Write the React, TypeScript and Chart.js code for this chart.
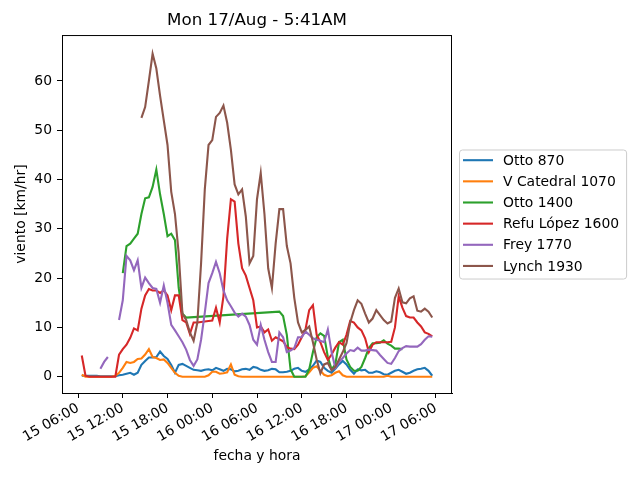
import { useEffect, useRef } from "react"
import { Chart, registerables } from "chart.js"

Chart.register(...registerables)

// hours counted from 15/Aug 00:00, one reading every half hour
const hours = [
  6.5, 7, 7.5, 8, 8.5, 9, 9.5, 10, 10.5, 11, 11.5, 12,
  12.5, 13, 13.5, 14, 14.5, 15, 15.5, 16, 16.5, 17, 17.5, 18,
  18.5, 19, 19.5, 20, 20.5, 21, 21.5, 22, 22.5, 23, 23.5, 24,
  24.5, 25, 25.5, 26, 26.5, 27, 27.5, 28, 28.5, 29, 29.5, 30,
  30.5, 31, 31.5, 32, 32.5, 33, 33.5, 34, 34.5, 35, 35.5, 36,
  36.5, 37, 37.5, 38, 38.5, 39, 39.5, 40, 40.5, 41, 41.5, 42,
  42.5, 43, 43.5, 44, 44.5, 45, 45.5, 46, 46.5, 47, 47.5, 48,
  48.5, 49, 49.5, 50, 50.5, 51, 51.5, 52, 52.5, 53, 53.5,
]

const otto870 = [
  0.2, 0.2, 0.2, 0.2, 0.2, 0.1, 0.1, 0.1, 0.1, 0.1, 0.3, 0.4,
  0.6, 0.8, 0.4, 0.8, 2.4, 3.2, 3.9, 3.9, 4.0, 5.1, 4.2, 3.6,
  2.4, 0.8, 2.4, 2.6, 2.2, 1.8, 1.4, 1.3, 1.2, 1.4, 1.5, 1.3,
  1.8, 1.5, 1.2, 1.6, 1.5, 1.1, 1.2, 1.5, 1.6, 1.4, 2.0, 1.8,
  1.4, 1.2, 1.3, 1.6, 1.5, 0.9, 0.9, 1.0, 1.2, 1.6, 1.8, 1.2,
  1.0, 1.5, 2.2, 3.3, 3.0, 1.8, 1.2, 0.8, 1.6, 2.5, 3.2, 2.5,
  1.4, 0.6, 1.5, 1.3, 1.4, 0.8, 0.8, 1.1, 0.9, 0.5, 0.4, 0.8,
  1.2, 1.4, 1.0, 0.6, 0.8, 1.2, 1.5, 1.6, 1.8, 1.2, 0.2,
]

const vCatedral1070 = [
  0.4, 0.0, 0.0, 0.0, 0.0, 0.0, 0.0, 0.0, 0.0, 0.2, 0.8, 1.8,
  3.0, 2.8, 3.0, 3.6, 3.7, 4.5, 5.6, 4.0, 3.8, 3.4, 3.5, 2.8,
  1.8, 0.8, 0.2, 0.0, 0.0, 0.0, 0.0, 0.0, 0.0, 0.0, 0.3, 1.0,
  1.0, 0.6, 0.7, 0.9, 2.5, 0.4, 0.1, 0.0, 0.0, 0.0, 0.0, 0.0,
  0.0, 0.0, 0.0, 0.0, 0.0, 0.0, 0.0, 0.0, 0.0, 0.0, 0.0, 0.0,
  0.1, 0.9, 1.8, 2.1, 1.2, 0.4, 0.1, 0.3, 0.8, 1.1, 0.3, 0.0,
  0.0, 0.0, 0.0, 0.0, 0.0, 0.0, 0.0, 0.0, 0.0, 0.0, 0.2, 0.0,
  0.0, 0.0, 0.0, 0.0, 0.0, 0.0, 0.0, 0.0, 0.0, 0.0, 0.0,
]

const otto1400 = [
  null, null, null, null, null, null, null, null, null, null, null, 21.0,
  26.5, 27.0, 28.0, 29.0, 33.0, 36.2, 36.4, 38.5, 42.0, 37.0, 33.0, 28.5,
  29.0, 27.7, 18.0, 12.8, 12.0, null, null, null, null, null, null, null,
  null, null, null, null, null, null, null, null, null, null, null, null,
  null, null, null, null, null, 13.2, 12.3, 8.5, 1.5, 0.0, 0.0, 0.0,
  0.0, 1.5, 5.0, 8.0, 8.8, 8.3, 4.0, 1.5, 2.5, 7.0, 7.5, 3.5,
  2.0, 1.2, 1.2, 2.0, 3.8, 5.8, 6.8, 6.8, 6.9, 7.4, 6.7, 6.3,
  5.7, 5.7, 5.6, null, null, null, null, null, null, null, null,
]

const refuLopez1600 = [
  4.3, 0.2, 0.0, 0.0, 0.0, 0.0, 0.0, 0.0, 0.0, 0.0, 4.5, 5.6,
  6.5, 7.9, 9.8, 9.4, 13.8, 16.5, 17.8, 17.5, 17.5, 17.0, 17.5, 16.5,
  13.5, 16.5, 16.5, 11.5, 11.0, 8.7, 11.0, 11.0, 11.1, 11.2, 11.3, 11.4,
  14.0, 11.0, 16.3, 28.0, 36.0, 35.5, 27.0, 22.0, 20.5, 18.0, 15.5, 10.0,
  10.2, 9.0, 9.6, 7.3, 8.0, 7.6, 7.2, 6.0, 5.7, 5.6, 6.5, 8.0,
  9.6, 13.5, 14.5, 8.5, 7.0, 5.0, 3.4, 4.5, 5.9, 7.0, 6.5, 8.5,
  11.3, 11.0, 10.0, 9.4, 7.8, 5.0, 6.5, 7.0, 7.0, 7.0, 7.0, 7.1,
  10.0, 16.3, 14.0, 12.3, 12.0, 12.0, 11.0, 10.2, 9.0, 8.7, 8.2,
]

const frey1770 = [
  null, null, null, null, null, 1.6, 3.0, 4.0, null, null, 11.5, 15.5,
  24.5, 23.6, 21.6, 23.6, 18.0, 20.1, 19.0, 18.0, 17.8, 15.0, 18.5, 15.0,
  10.5, 9.4, 8.2, 7.0, 5.5, 3.4, 2.2, 3.5, 7.5, 13.0, 19.0, 21.0,
  23.3, 21.0, 17.5, 15.5, 14.3, 13.0, 12.2, 12.8, 12.2, 10.5, 7.5, 6.5,
  10.5, 7.5, 5.0, 3.0, 3.0, 9.0, 8.0, 5.0, 5.3, 5.8, 8.0, 8.0,
  9.2, 8.5, 7.8, 7.5, 7.3, 7.0, 9.6, 5.0, 1.8, 3.0, 3.8, 4.7,
  5.4, 5.2, 5.9, 5.3, 5.3, 5.5, 5.4, 5.3, 4.4, 3.6, 2.8, 2.6,
  3.8, 5.2, 5.8, 6.2, 6.1, 6.1, 6.1, 6.6, 7.5, 8.2, 8.1,
]

const lynch1930 = [
  null, null, null, null, null, null, null, null, null, null, null, null,
  null, null, null, null, 52.5, 54.7, 60.0, 65.5, 62.5, 57.0, 52.0, 47.0,
  37.5, 33.0, 25.0, 12.8, 11.5, 9.0, 7.3, 11.0, 23.0, 38.0, 47.0, 48.0,
  52.7, 53.5, 55.0, 51.5, 46.0, 39.0, 37.0, 38.0, 32.5, 23.0, 24.5, 36.0,
  41.3, 33.0, 22.0, 18.0, 27.0, 34.0, 34.0, 26.5, 23.0, 16.0, 11.0, 9.0,
  9.5, 10.2, 7.0, 3.5, 0.7, 2.5, 2.8, 1.3, 2.0, 3.5, 5.0, 6.8,
  11.0, 13.5, 15.5, 14.8, 12.8, 11.0, 11.8, 13.5, 12.5, 11.5, 10.8, 11.2,
  16.0, 17.9, 15.1, 14.9, 15.9, 16.3, 13.4, 13.2, 13.8, 13.2, 12.0,
]

const seriesNames = ["Otto 870", "V Catedral 1070", "Otto 1400", "Refu López 1600", "Frey 1770", "Lynch 1930"]
const seriesValues = [otto870, vCatedral1070, otto1400, refuLopez1600, frey1770, lynch1930]
const seriesColors = ["#1f77b4", "#ff7f0e", "#2ca02c", "#d62728", "#9467bd", "#8c564b"]
// missing readings of Otto 1400 are joined by a straight line, Frey has a real break
const seriesSpanGaps = [true, true, true, true, false, false]

const xTickHours = [6, 12, 18, 24, 30, 36, 42, 48, 54]
const xTickLabels = ["15 06:00", "15 12:00", "15 18:00", "16 00:00", "16 06:00", "16 12:00", "16 18:00", "17 00:00", "17 06:00"]
const yTicks = [0, 10, 20, 30, 40, 50, 60]

const FONT = "'DejaVu Sans', sans-serif"

// axes frame and the legend box to the right of the axes
const framePlugin = {
  id: "frameAndLegend",
  afterDraw(chart: Chart) {
    const { ctx, chartArea } = chart
    ctx.save()
    ctx.strokeStyle = "#000"
    ctx.lineWidth = 1
    ctx.strokeRect(chartArea.left + 0.5, chartArea.top + 0.5, chartArea.width - 1, chartArea.height)

    ctx.font = `13.9px ${FONT}`
    const datasets = chart.data.datasets
    const rowH = 21.15
    const textW = Math.max(...datasets.map((d) => ctx.measureText(String(d.label)).width))
    const left = chartArea.right + 7
    const width = 44 + textW + 7
    const height = rowH * (datasets.length - 1) + 23.3
    const top = (chartArea.top + chartArea.bottom) / 2 - height / 2
    ctx.beginPath()
    ctx.roundRect(left + 0.5, top + 0.5, width, height, 3)
    ctx.fillStyle = "rgba(255,255,255,0.8)"
    ctx.fill()
    ctx.strokeStyle = "#cccccc"
    ctx.stroke()

    datasets.forEach((d, i) => {
      const y = top + 10.7 + i * rowH
      ctx.beginPath()
      ctx.strokeStyle = String(d.borderColor)
      ctx.lineWidth = 2.1
      ctx.moveTo(left + 4, y)
      ctx.lineTo(left + 34, y)
      ctx.stroke()
      ctx.fillStyle = "#000"
      ctx.textBaseline = "middle"
      ctx.textAlign = "left"
      ctx.fillText(String(d.label), left + 44, y + 1)
    })
    ctx.restore()
  },
}

export default function App() {
  const chartRef = useRef<HTMLCanvasElement>(null)
  const chartInstance = useRef<Chart | null>(null)

  useEffect(() => {
    if (!chartRef.current) return
    if (chartInstance.current) {
      chartInstance.current.destroy()
    }

    const datasets = seriesNames.map((name, i) => ({
      label: name,
      data: hours.map((h, j) => ({ x: h, y: seriesValues[i][j] })),
      borderColor: seriesColors[i],
      backgroundColor: seriesColors[i],
      borderWidth: 2.1,
      pointRadius: 0,
      tension: 0,
      spanGaps: seriesSpanGaps[i],
      order: seriesNames.length - i,
    }))

    chartInstance.current = new Chart(chartRef.current, {
      type: "line",
      data: { datasets },
      options: {
        responsive: false,
        animation: false,
        layout: { padding: { left: 0, right: 188, top: 0, bottom: 0 } },
        scales: {
          x: {
            type: "linear",
            min: 3.85,
            max: 56.15,
            afterBuildTicks: (scale: any) => {
              scale.ticks = xTickHours.map((v) => ({ value: v }))
            },
            afterFit: (scale: any) => {
              scale.height = 87
            },
            ticks: {
              autoSkip: false,
              minRotation: 30,
              maxRotation: 30,
              padding: 2,
              color: "#000",
              font: { family: FONT, size: 13.9 },
              callback: (value: any) => xTickLabels[xTickHours.indexOf(Number(value))] ?? "",
            },
            grid: { drawOnChartArea: false, drawTicks: true, tickLength: 5, color: "#000" },
            border: { display: true, color: "#000" },
            title: {
              display: true,
              text: "fecha y hora",
              color: "#000",
              font: { family: FONT, size: 13.9 },
              padding: { top: 4, bottom: 15 },
            },
          },
          y: {
            type: "linear",
            min: -3.3,
            max: 69.3,
            afterBuildTicks: (scale: any) => {
              scale.ticks = yTicks.map((v) => ({ value: v }))
            },
            afterFit: (scale: any) => {
              scale.width = 62
            },
            ticks: {
              padding: 5,
              color: "#000",
              font: { family: FONT, size: 13.9 },
              callback: (value: any) => String(value),
            },
            grid: { drawOnChartArea: false, drawTicks: true, tickLength: 5, color: "#000" },
            border: { display: true, color: "#000" },
            title: {
              display: true,
              text: "viento [km/hr]",
              color: "#000",
              font: { family: FONT, size: 13.9 },
              padding: { top: 13, bottom: 4 },
            },
          },
        },
        plugins: {
          legend: { display: false },
          tooltip: { enabled: false },
          title: {
            display: true,
            fullSize: false,
            text: "Mon 17/Aug - 5:41AM",
            color: "#000",
            font: { family: FONT, size: 16.7, weight: "normal" },
            padding: { top: 11, bottom: 4 },
          },
        },
      },
      plugins: [framePlugin],
    })

    return () => {
      if (chartInstance.current) {
        chartInstance.current.destroy()
        chartInstance.current = null
      }
    }
  }, [])

  return (
    <div style={{ position: "absolute", left: 0, top: 0, width: 640, height: 480, background: "#fff" }}>
      <canvas ref={chartRef} width={640} height={480}></canvas>
    </div>
  )
}
